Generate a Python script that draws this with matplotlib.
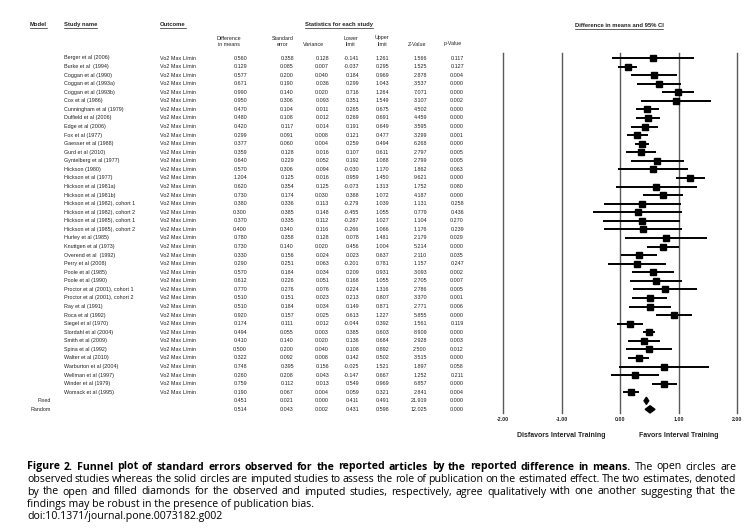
import numpy as np
import matplotlib
matplotlib.use('Agg')
from matplotlib import pyplot as plt
from matplotlib.patches import Polygon

studies = ['Berger et al (2006)', 'Burke et al  (1994)', 'Coggan et al (1990)', 'Coggan et al (1993a)',
           'Coggan et al (1993b)', 'Cox et al (1986)', 'Cunningham et al (1979)', 'Duffield et al (2006)',
           'Edge et al (2006)', 'Fox et al (1977)', 'Gaesser et al (1988)', 'Gurd et al (2010)',
           'Gyntelberg et al (1977)', 'Hickson (1980)', 'Hickson et al (1977)', 'Hickson et al (1981a)',
           'Hickson et al (1981b)', 'Hickson et al (1982), cohort 1', 'Hickson et al (1982), cohort 2',
           'Hickson et al (1985), cohort 1', 'Hickson et al (1985), cohort 2', 'Hurley et al (1985)',
           'Knuttgen et al (1973)', 'Overend et al  (1992)', 'Perry et al (2008)', 'Poole et al (1985)',
           'Poole et al (1990)', 'Proctor et al (2001), cohort 1', 'Proctor et al (2001), cohort 2',
           'Ray et al (1991)', 'Roca et al (1992)', 'Siegel et al (1970)', 'Slordahl et al (2004)',
           'Smith et al (2009)', 'Spina et al (1992)', 'Walter et al (2010)', 'Warburton et al (2004)',
           'Wellman et al (1997)', 'Winder et al (1979)', 'Womack et al (1995)']
models = ['Fixed', 'Random']
outcome = 'Vo2 Max L/min'

diff = [0.560, 0.129, 0.577, 0.671, 0.990, 0.950, 0.470, 0.480, 0.420, 0.299, 0.377, 0.359, 0.640, 0.570,
        1.204, 0.620, 0.730, 0.380, 0.300, 0.370, 0.400, 0.780, 0.730, 0.330, 0.290, 0.570, 0.612, 0.770,
        0.510, 0.510, 0.920, 0.174, 0.494, 0.410, 0.500, 0.322, 0.748, 0.260, 0.759, 0.190, 0.451, 0.514]
se = [0.358, 0.085, 0.200, 0.190, 0.140, 0.306, 0.104, 0.108, 0.117, 0.091, 0.060, 0.128, 0.229, 0.306,
      0.125, 0.354, 0.174, 0.336, 0.385, 0.335, 0.340, 0.358, 0.140, 0.156, 0.251, 0.184, 0.226, 0.276,
      0.151, 0.184, 0.157, 0.111, 0.055, 0.140, 0.200, 0.092, 0.395, 0.208, 0.112, 0.067, 0.021, 0.043]
variance = [0.128, 0.007, 0.040, 0.036, 0.020, 0.093, 0.011, 0.012, 0.014, 0.008, 0.004, 0.016, 0.052, 0.094,
            0.016, 0.125, 0.030, 0.113, 0.148, 0.112, 0.116, 0.128, 0.020, 0.024, 0.063, 0.034, 0.051, 0.076,
            0.023, 0.034, 0.025, 0.012, 0.003, 0.020, 0.040, 0.008, 0.156, 0.043, 0.013, 0.004, 0.000, 0.002]
lower = [-0.141, -0.037, 0.184, 0.299, 0.716, 0.351, 0.265, 0.269, 0.191, 0.121, 0.259, 0.107, 0.192, -0.030,
         0.959, -0.073, 0.388, -0.279, -0.455, -0.287, -0.266, 0.078, 0.456, 0.023, -0.201, 0.209, 0.168, 0.224,
         0.213, 0.149, 0.613, -0.044, 0.385, 0.136, 0.108, 0.142, -0.025, -0.147, 0.549, 0.059, 0.411, 0.431]
upper = [1.261, 0.295, 0.969, 1.043, 1.264, 1.549, 0.675, 0.691, 0.649, 0.477, 0.494, 0.611, 1.088, 1.170,
         1.450, 1.313, 1.072, 1.039, 1.055, 1.027, 1.066, 1.481, 1.004, 0.637, 0.781, 0.931, 1.055, 1.316,
         0.807, 0.871, 1.227, 0.392, 0.603, 0.684, 0.892, 0.502, 1.521, 0.667, 0.969, 0.321, 0.491, 0.598]
zval = [1.566, 1.525, 2.878, 3.537, 7.071, 3.107, 4.502, 4.459, 3.595, 3.299, 6.268, 2.797, 2.799, 1.862,
        9.621, 1.752, 4.187, 1.131, 0.779, 1.104, 1.176, 2.179, 5.214, 2.110, 1.157, 3.093, 2.705, 2.786,
        3.370, 2.771, 5.855, 1.561, 8.909, 2.928, 2.500, 3.515, 1.897, 1.252, 6.857, 2.841, 21.919, 12.025]
pval = [0.117, 0.127, 0.004, 0.000, 0.000, 0.002, 0.000, 0.000, 0.000, 0.001, 0.000, 0.005, 0.005, 0.063,
        0.000, 0.080, 0.000, 0.258, 0.436, 0.270, 0.239, 0.029, 0.000, 0.035, 0.247, 0.002, 0.007, 0.005,
        0.001, 0.006, 0.000, 0.119, 0.000, 0.003, 0.012, 0.000, 0.058, 0.211, 0.000, 0.004, 0.000, 0.000]

ticks = [-2.0, -1.0, 0.0, 1.0, 2.0]

W, H = 754, 532
ROW0 = 58
ROWH = 8.57
tcol = '#222222'
tfont = 'Liberation Sans'

fig = plt.figure(figsize=(W / 100, H / 100), dpi=100)
ax = fig.add_axes([0, 0, 1, 1])
ax.set_xlim(0, W)
ax.set_ylim(H, 0)
ax.axis('off')

fx = fig.add_axes([503 / W, 0, 234 / W, 1])
fx.set_xlim(-2, 2)
fx.set_ylim((H - ROW0) / ROWH, -ROW0 / ROWH)
fx.axis('off')
fx.patch.set_alpha(0)

renderer = fig.canvas.get_renderer()
inv = ax.transData.inverted()


def underline(t):
    bb = t.get_window_extent(renderer=renderer)
    (x0, y0), (x1, y1) = inv.transform([(bb.x0, bb.y0), (bb.x1, bb.y0)])
    ax.plot([x0, x1], [y0 + 0.6, y1 + 0.6], color=tcol, lw=0.5)


fs = 3.9
# headers
for x, s in [(30, 'Model'), (64, 'Study name'), (160, 'Outcome')]:
    t = ax.text(x, 27, s, fontsize=4.2, family=tfont, color=tcol, ha='left', va='bottom', fontweight='bold')
    underline(t)
t = ax.text(339, 27, 'Statistics for each study', fontsize=4.2, family=tfont, color=tcol, ha='center',
            va='bottom', fontweight='bold')
underline(t)
t = ax.text(619, 28, 'Difference in means and 95% CI', fontsize=4.2, family=tfont, color=tcol, ha='center',
            va='bottom', fontweight='bold')
underline(t)

colx = [247, 294, 329, 359, 389, 427, 464]
heads = [('Difference\nin means', 229), ('Standard\nerror', 283), ('\nVariance', 314), ('Lower\nlimit', 351),
         ('Upper\nlimit', 382), ('\nZ-Value', 417), ('\np-Value', 453)]
for s, x in heads:
    ax.text(x, 41, s, fontsize=fs, family=tfont, color=tcol, ha='center', va='center', linespacing=1.25)

cols = [diff, se, variance, lower, upper, zval, pval]
nrows = len(diff)
for i in range(nrows):
    y = ROW0 + ROWH * i
    if i < len(studies):
        ax.text(64, y, studies[i], fontsize=fs, family=tfont, color=tcol, ha='left', va='center')
        ax.text(160, y, outcome, fontsize=fs, family=tfont, color=tcol, ha='left', va='center')
    else:
        ax.text(51, y, models[i - len(studies)], fontsize=fs, family=tfont, color=tcol, ha='right', va='center')
    for x, c in zip(colx, cols):
        ax.text(x, y, f'{c[i]:.3f}', fontsize=fs, family=tfont, color=tcol, ha='right', va='center')

# forest plot
for tk in ticks:
    fx.plot([tk, tk], [-0.6, 41.4], color='#5a5a5a', lw=1.0, clip_on=False)
    fx.text(tk, (420 - ROW0) / ROWH, f'{tk:.2f}', fontsize=3.8, family=tfont, fontweight='bold',
            color=tcol, ha='center', va='center')
fx.text(-1, (436 - ROW0) / ROWH, 'Disfavors Interval Training', fontsize=5, family=tfont, fontweight='bold',
        color=tcol, ha='center', va='center')
fx.text(1, (436 - ROW0) / ROWH, 'Favors Interval Training', fontsize=5, family=tfont, fontweight='bold',
        color=tcol, ha='center', va='center')

ns = len(studies)
yy = np.arange(ns)
fx.hlines(yy, lower[:ns], upper[:ns], color='black', lw=1.4, clip_on=False)
fx.plot(diff[:ns], yy, 's', color='black', markersize=5, clip_on=False)
for k in range(len(models)):
    i = ns + k
    hh = 0.42
    fx.add_patch(Polygon([(lower[i], i), (diff[i], i - hh), (upper[i], i), (diff[i], i + hh)],
                         closed=True, color='black', clip_on=False))

# caption
cfont = 'Open Sans'
cfs = 7.6
X0, X1 = 27, 736
cap_lines = [
    [('Figure 2. Funnel plot of standard errors observed for the reported articles by the reported difference in means.', 'bold'),
     ('The open circles are', 'normal')],
    [('observed studies whereas the solid circles are imputed studies to assess the role of publication on the estimated effect. The two estimates, denoted', 'normal')],
    [('by the open and filled diamonds for the observed and imputed studies, respectively, agree qualitatively with one another suggesting that the', 'normal')],
]
cap_y = [467, 479.5, 492]


def justify_line(parts, y):
    words = []
    for s, wgt in parts:
        for w in s.split():
            words.append((w, wgt))
    txts = []
    widths = []
    for w, wgt in words:
        t = ax.text(0, y, w, fontsize=cfs, family=cfont, fontweight=wgt, color='black', ha='left', va='center')
        bb = t.get_window_extent(renderer=renderer)
        txts.append(t)
        widths.append(bb.width)
    gap = (X1 - X0 - sum(widths)) / (len(words) - 1)
    x = X0
    for t, wd in zip(txts, widths):
        t.set_x(x)
        x += wd + gap


for parts, y in zip(cap_lines, cap_y):
    justify_line(parts, y)
ax.text(X0, 504.5, 'findings may be robust in the presence of publication bias.', fontsize=cfs, family=cfont,
        color='black', ha='left', va='center')
ax.text(X0, 517, 'doi:10.1371/journal.pone.0073182.g002', fontsize=cfs, family=cfont,
        color='black', ha='left', va='center')

fig.savefig('out.png', dpi=100)
